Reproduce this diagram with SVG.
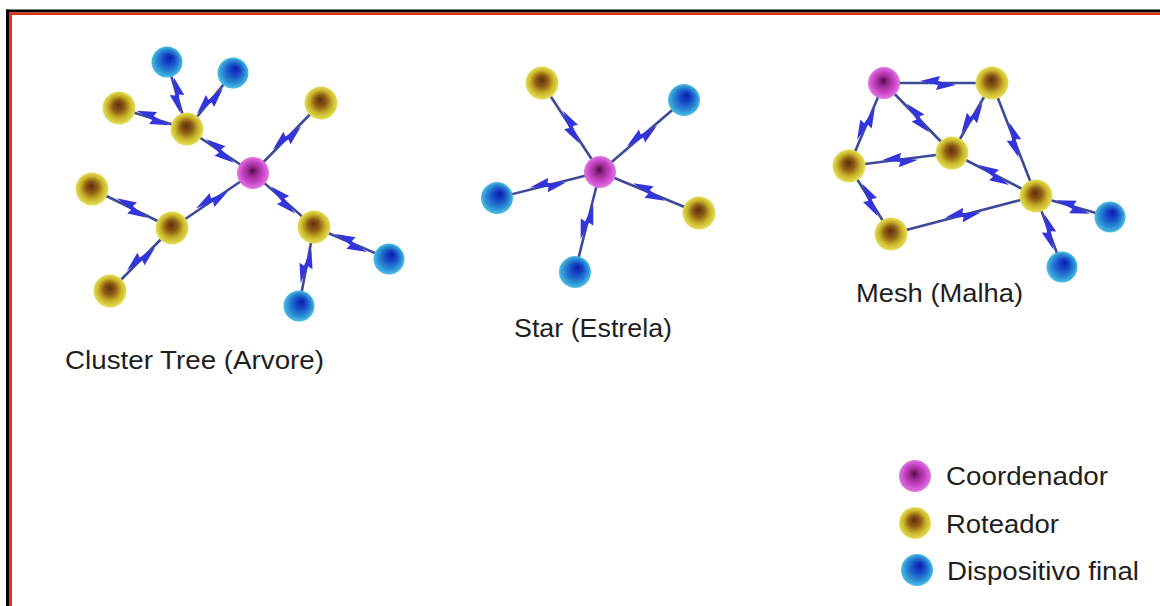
<svg xmlns="http://www.w3.org/2000/svg" xmlns:xlink="http://www.w3.org/1999/xlink" width="1160" height="606" viewBox="0 0 1160 606">
  <style>
    .link { stroke: #3d4a98; stroke-width: 2.6; fill: none; }
    .bolt { fill: #3434dc; }
    .coord { fill: url(#gCoord); }
    .router { fill: url(#gRouter); }
    .device { fill: url(#gDevice); }
    .label { font-family: "Liberation Sans", Arial, sans-serif; font-size: 25.5px; fill: #1e1e1e; }
  </style>
  <defs>
    <radialGradient id="gCoord" cx="0.5" cy="0.5" r="0.5" fx="0.48" fy="0.42">
      <stop offset="0" stop-color="#4e0c46"/>
      <stop offset="0.3" stop-color="#98288c"/>
      <stop offset="0.7" stop-color="#cc48cc"/>
      <stop offset="1" stop-color="#e07ae0"/>
    </radialGradient>
    <radialGradient id="gRouter" cx="0.5" cy="0.5" r="0.5" fx="0.48" fy="0.4">
      <stop offset="0" stop-color="#5e2e0c"/>
      <stop offset="0.35" stop-color="#8c5a14"/>
      <stop offset="0.7" stop-color="#c8b428"/>
      <stop offset="1" stop-color="#e6e05a"/>
    </radialGradient>
    <radialGradient id="gDevice" cx="0.5" cy="0.5" r="0.5" fx="0.6" fy="0.35">
      <stop offset="0" stop-color="#0a1ca8"/>
      <stop offset="0.35" stop-color="#1648c8"/>
      <stop offset="0.75" stop-color="#2c8ed4"/>
      <stop offset="1" stop-color="#4cc0e4"/>
    </radialGradient>
    <!-- zig-zag radio symbol drawn along the +x axis -->
    <path id="bolt" class="bolt" d="M-18,-2 L2,-7 L0,-2 L18,2 L-2,7 L0,2 Z"/>
  </defs>

  <rect width="1160" height="606" fill="#ffffff"/>

  <!-- frame -->
  <g id="frame">
    <rect x="6" y="9.5" width="1154" height="3" fill="#000000"/>
    <rect x="6" y="9.5" width="3" height="597" fill="#000000"/>
    <rect x="9" y="12.5" width="1151" height="2.5" fill="#e03020"/>
    <rect x="9" y="12.5" width="3" height="594" fill="#e03020"/>
  </g>

  <!-- wireless links -->
  <g id="connectors">
    <!-- cluster tree -->
    <line class="link" x1="253" y1="173" x2="187" y2="129"/>
    <line class="link" x1="253" y1="173" x2="321" y2="103"/>
    <line class="link" x1="253" y1="173" x2="172" y2="228"/>
    <line class="link" x1="253" y1="173" x2="314" y2="227"/>
    <line class="link" x1="187" y1="129" x2="167" y2="62"/>
    <line class="link" x1="187" y1="129" x2="233" y2="73"/>
    <line class="link" x1="187" y1="129" x2="119" y2="108"/>
    <line class="link" x1="172" y1="228" x2="92" y2="189"/>
    <line class="link" x1="172" y1="228" x2="110" y2="291"/>
    <line class="link" x1="314" y1="227" x2="389" y2="259"/>
    <line class="link" x1="314" y1="227" x2="299" y2="306"/>
    <use href="#bolt" transform="translate(220,151) rotate(33.7)"/>
    <use href="#bolt" transform="translate(287,138) rotate(-45.8)"/>
    <use href="#bolt" transform="translate(212,200) rotate(-34.2)"/>
    <use href="#bolt" transform="translate(283,200) rotate(41.5)"/>
    <use href="#bolt" transform="translate(177,95) rotate(73.4)"/>
    <use href="#bolt" transform="translate(210,101) rotate(-50.6)"/>
    <use href="#bolt" transform="translate(153,118) rotate(17.2)"/>
    <use href="#bolt" transform="translate(132,208) rotate(26)"/>
    <use href="#bolt" transform="translate(141,259) rotate(-45.5)"/>
    <use href="#bolt" transform="translate(351,243) rotate(23.1)"/>
    <use href="#bolt" transform="translate(306,266) rotate(-79.2)"/>

    <!-- star -->
    <line class="link" x1="600" y1="172" x2="542" y2="83"/>
    <line class="link" x1="600" y1="172" x2="684" y2="100"/>
    <line class="link" x1="600" y1="172" x2="497" y2="198"/>
    <line class="link" x1="600" y1="172" x2="699" y2="213"/>
    <line class="link" x1="600" y1="172" x2="575" y2="272"/>
    <use href="#bolt" transform="translate(571,127) rotate(56.9)"/>
    <use href="#bolt" transform="translate(642,136) rotate(-40.6)"/>
    <use href="#bolt" transform="translate(548,185) rotate(-14.2)"/>
    <use href="#bolt" transform="translate(649,192) rotate(22.5)"/>
    <use href="#bolt" transform="translate(587,222) rotate(-76)"/>

    <!-- mesh -->
    <line class="link" x1="884" y1="83" x2="992" y2="83"/>
    <line class="link" x1="884" y1="83" x2="952" y2="153"/>
    <line class="link" x1="884" y1="83" x2="849" y2="166"/>
    <line class="link" x1="992" y1="83" x2="952" y2="153"/>
    <line class="link" x1="992" y1="83" x2="1036" y2="196"/>
    <line class="link" x1="952" y1="153" x2="849" y2="166"/>
    <line class="link" x1="952" y1="153" x2="1036" y2="196"/>
    <line class="link" x1="849" y1="166" x2="891" y2="234"/>
    <line class="link" x1="891" y1="234" x2="1036" y2="196"/>
    <line class="link" x1="1036" y1="196" x2="1110" y2="217"/>
    <line class="link" x1="1036" y1="196" x2="1062" y2="267"/>
    <use href="#bolt" transform="translate(938,83) rotate(0)"/>
    <use href="#bolt" transform="translate(918,118) rotate(45.8)"/>
    <use href="#bolt" transform="translate(866,124) rotate(-67.1)"/>
    <use href="#bolt" transform="translate(972,118) rotate(-60.3)"/>
    <use href="#bolt" transform="translate(1014,140) rotate(68.7)"/>
    <use href="#bolt" transform="translate(900,160) rotate(-7.2)"/>
    <use href="#bolt" transform="translate(994,175) rotate(27.1)"/>
    <use href="#bolt" transform="translate(870,200) rotate(58.3)"/>
    <use href="#bolt" transform="translate(963,215) rotate(-14.7)"/>
    <use href="#bolt" transform="translate(1073,207) rotate(15.8)"/>
    <use href="#bolt" transform="translate(1049,232) rotate(69.9)"/>
  </g>

  <!-- cluster tree nodes -->
  <g id="tree-coordinator"><circle class="coord" cx="253" cy="173" r="16"/></g>
  <g id="tree-router-1"><circle class="router" cx="187" cy="129" r="16.5"/></g>
  <g id="tree-router-2"><circle class="router" cx="119" cy="108" r="16.5"/></g>
  <g id="tree-router-3"><circle class="router" cx="321" cy="103" r="16.5"/></g>
  <g id="tree-router-4"><circle class="router" cx="172" cy="228" r="16.5"/></g>
  <g id="tree-router-5"><circle class="router" cx="92" cy="189" r="16.5"/></g>
  <g id="tree-router-6"><circle class="router" cx="110" cy="291" r="16.5"/></g>
  <g id="tree-router-7"><circle class="router" cx="314" cy="227" r="16.5"/></g>
  <g id="tree-device-1"><circle class="device" cx="167" cy="62" r="15.5"/></g>
  <g id="tree-device-2"><circle class="device" cx="233" cy="73" r="15.5"/></g>
  <g id="tree-device-3"><circle class="device" cx="389" cy="259" r="15.5"/></g>
  <g id="tree-device-4"><circle class="device" cx="299" cy="306" r="15.5"/></g>
  <g id="tree-label"><text class="label" x="65" y="369" textLength="259" lengthAdjust="spacingAndGlyphs">Cluster Tree (Arvore)</text></g>

  <!-- star nodes -->
  <g id="star-coordinator"><circle class="coord" cx="600" cy="172" r="16"/></g>
  <g id="star-router-1"><circle class="router" cx="542" cy="83" r="16.5"/></g>
  <g id="star-router-2"><circle class="router" cx="699" cy="213" r="16.5"/></g>
  <g id="star-device-1"><circle class="device" cx="684" cy="100" r="16"/></g>
  <g id="star-device-2"><circle class="device" cx="497" cy="198" r="16"/></g>
  <g id="star-device-3"><circle class="device" cx="575" cy="272" r="16"/></g>
  <g id="star-label"><text class="label" x="514" y="337" textLength="158" lengthAdjust="spacingAndGlyphs">Star (Estrela)</text></g>

  <!-- mesh nodes -->
  <g id="mesh-coordinator"><circle class="coord" cx="884" cy="83" r="16"/></g>
  <g id="mesh-router-1"><circle class="router" cx="992" cy="83" r="16.5"/></g>
  <g id="mesh-router-2"><circle class="router" cx="952" cy="153" r="16.5"/></g>
  <g id="mesh-router-3"><circle class="router" cx="849" cy="166" r="16.5"/></g>
  <g id="mesh-router-4"><circle class="router" cx="891" cy="234" r="16.5"/></g>
  <g id="mesh-router-5"><circle class="router" cx="1036" cy="196" r="16.5"/></g>
  <g id="mesh-device-1"><circle class="device" cx="1110" cy="217" r="15.5"/></g>
  <g id="mesh-device-2"><circle class="device" cx="1062" cy="267" r="15.5"/></g>
  <g id="mesh-label"><text class="label" x="856" y="302" textLength="167" lengthAdjust="spacingAndGlyphs">Mesh (Malha)</text></g>

  <!-- legend -->
  <g id="legend">
    <g id="legend-coordinator">
      <circle class="coord" cx="915" cy="476" r="16"/>
      <text class="label" x="946" y="485" textLength="162" lengthAdjust="spacingAndGlyphs">Coordenador</text>
    </g>
    <g id="legend-router">
      <circle class="router" cx="915" cy="523" r="16"/>
      <text class="label" x="946" y="533" textLength="113" lengthAdjust="spacingAndGlyphs">Roteador</text>
    </g>
    <g id="legend-device">
      <circle class="device" cx="917" cy="570" r="16"/>
      <text class="label" x="947" y="580" textLength="192" lengthAdjust="spacingAndGlyphs">Dispositivo final</text>
    </g>
  </g>
</svg>
